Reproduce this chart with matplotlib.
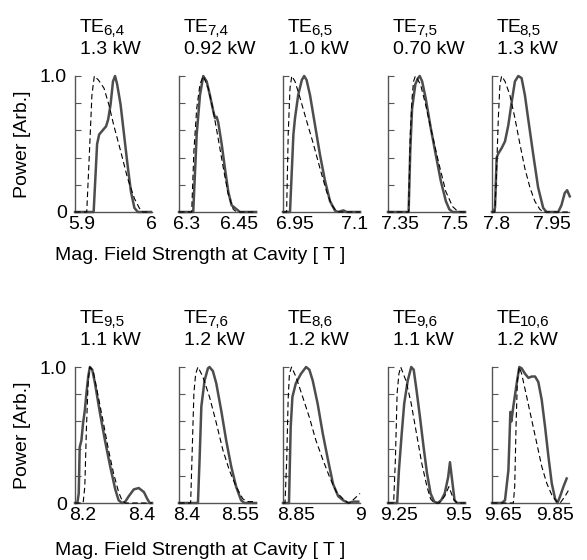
import matplotlib
matplotlib.use("Agg")
import matplotlib.pyplot as plt

# --------------------------
# Fonts
# --------------------------
plt.rcParams["font.family"] = ["Liberation Sans", "DejaVu Sans"]

# --------------------------
# Data (B field in T, normalised power)
# --------------------------
MODES = ["6,4", "7,4", "6,5", "7,5", "8,5", "9,5", "7,6", "8,6", "9,6", "10,6"]
POWERS = ["1.3 kW", "0.92 kW", "1.0 kW", "0.70 kW", "1.3 kW",
          "1.1 kW", "1.2 kW", "1.2 kW", "1.1 kW", "1.2 kW"]
TICKS = [(5.9, 6.0), (6.3, 6.45), (6.95, 7.1), (7.35, 7.5), (7.8, 7.95),
         (8.2, 8.4), (8.4, 8.55), (8.85, 9.0), (9.25, 9.5), (9.65, 9.85)]
TICK_LABELS = [("5.9", "6"), ("6.3", "6.45"), ("6.95", "7.1"), ("7.35", "7.5"), ("7.8", "7.95"),
               ("8.2", "8.4"), ("8.4", "8.55"), ("8.85", "9"), ("9.25", "9.5"), ("9.65", "9.85")]
XLIMS = [(5.890, 6.0015), (6.277, 6.499), (6.92, 7.1125), (7.317, 7.528), (7.789, 7.996),
         (8.174, 8.436), (8.378, 8.595), (8.82, 9.0), (9.206, 9.526), (9.608, 9.904)]

# measured (solid) and simulated (dashed)
te64_meas_b = [5.890, 5.917, 5.920, 5.922, 5.925, 5.930, 5.935, 5.938, 5.9415, 5.945, 5.948, 5.951,
               5.956, 5.961, 5.966, 5.971, 5.976, 5.981, 6.0]
te64_meas_p = [0, 0, 0.30, 0.50, 0.57, 0.60, 0.63, 0.68, 0.79, 0.96, 1.0, 0.94,
               0.79, 0.57, 0.35, 0.15, 0.03, 0, 0]
te64_calc_b = [5.890, 5.907, 5.911, 5.9145, 5.918, 5.924, 5.932, 5.939, 5.946, 5.956, 5.966,
               5.976, 5.983, 5.988, 6.0]
te64_calc_p = [0, 0, 0.45, 0.86, 1.0, 0.97, 0.91, 0.79, 0.64, 0.45, 0.25, 0.10, 0.03, 0, 0]

te74_meas_b = [6.277, 6.318, 6.328, 6.3375, 6.347, 6.3567, 6.366, 6.376, 6.381, 6.3855, 6.390,
               6.400, 6.4095, 6.419, 6.4287, 6.443, 6.4527, 6.499]
te74_meas_p = [0, 0, 0.57, 0.86, 1.0, 0.96, 0.86, 0.74, 0.69, 0.70, 0.66, 0.50, 0.32, 0.15,
               0.05, 0.02, 0, 0]
te74_calc_b = [6.277, 6.3135, 6.320, 6.328, 6.3375, 6.347, 6.3615, 6.376, 6.390, 6.405, 6.419,
               6.4335, 6.443, 6.499]
te74_calc_p = [0, 0, 0.45, 0.76, 0.94, 1.0, 0.91, 0.74, 0.54, 0.32, 0.13, 0.02, 0, 0]

te65_meas_b = [6.92, 6.9375, 6.946, 6.95, 6.958, 6.967, 6.973, 6.979, 6.9875, 7.0, 7.0125,
               7.025, 7.0375, 7.05, 7.058, 7.071, 7.079, 7.1125]
te65_meas_p = [0, 0, 0.57, 0.69, 0.86, 0.97, 1.0, 0.97, 0.86, 0.64, 0.42, 0.23, 0.08, 0.01,
               0, 0.012, 0, 0]
te65_calc_b = [6.92, 6.929, 6.933, 6.9375, 6.942, 6.95, 6.9625, 6.979, 6.996, 7.0125, 7.029,
               7.042, 7.054, 7.0625, 7.1125]
te65_calc_p = [0, 0, 0.57, 0.91, 1.0, 0.96, 0.84, 0.67, 0.50, 0.32, 0.15, 0.05, 0.005, 0, 0]

te75_meas_b = [7.317, 7.3735, 7.378, 7.383, 7.392, 7.3995, 7.404, 7.4106, 7.42, 7.434, 7.448,
               7.4616, 7.4755, 7.485, 7.494, 7.528]
te75_meas_p = [0, 0, 0.45, 0.76, 0.94, 0.985, 1.0, 0.96, 0.84, 0.62, 0.42, 0.23, 0.08, 0.02, 0, 0]
te75_calc_b = [7.317, 7.3735, 7.378, 7.383, 7.387, 7.392, 7.406, 7.42, 7.438, 7.457, 7.4755,
               7.494, 7.508, 7.517, 7.528]
te75_calc_p = [0, 0, 0.57, 0.84, 0.96, 1.0, 0.94, 0.79, 0.57, 0.35, 0.15, 0.04, 0.005, 0, 0]

te85_meas_b = [7.789, 7.7926, 7.797, 7.8015, 7.806, 7.815, 7.824, 7.833, 7.842, 7.8506, 7.8596,
               7.8685, 7.8774, 7.886, 7.900, 7.913, 7.9266, 7.9355, 7.967, 7.9757, 7.9846,
               7.991, 7.998]
te85_meas_p = [0, 0, 0.03, 0.40, 0.43, 0.47, 0.52, 0.64, 0.81, 0.96, 1.0, 0.985, 0.86, 0.69,
               0.42, 0.18, 0.03, 0, 0, 0.05, 0.14, 0.16, 0.115]
te85_calc_b = [7.789, 7.797, 7.8015, 7.806, 7.8104, 7.815, 7.824, 7.837, 7.8506, 7.864, 7.8774,
               7.891, 7.904, 7.9176, 7.9266, 7.996]
te85_calc_p = [0, 0, 0.32, 0.69, 0.94, 1.0, 0.96, 0.86, 0.69, 0.50, 0.32, 0.18, 0.08, 0.02, 0, 0]

te95_meas_b = [8.174, 8.182, 8.1867, 8.190, 8.1958, 8.2016, 8.2074, 8.213, 8.219, 8.2246, 8.2327,
               8.242, 8.259, 8.276, 8.2936, 8.311, 8.3224, 8.334, 8.345, 8.357, 8.374, 8.391,
               8.4086, 8.42, 8.428, 8.436]
te95_meas_p = [0, 0, 0.07, 0.41, 0.46, 0.59, 0.68, 0.81, 0.93, 1.0, 0.98, 0.88, 0.66, 0.46,
               0.27, 0.10, 0.02, 0, 0.01, 0.05, 0.10, 0.11, 0.08, 0.03, 0, 0]
te95_calc_b = [8.174, 8.2016, 8.2074, 8.213, 8.219, 8.2246, 8.236, 8.2534, 8.2706, 8.288, 8.305,
               8.3224, 8.334, 8.345, 8.436]
te95_calc_p = [0, 0, 0.12, 0.56, 0.90, 1.0, 0.97, 0.78, 0.59, 0.39, 0.22, 0.08, 0.02, 0, 0]

te76_meas_b = [8.378, 8.4314, 8.436, 8.441, 8.450, 8.4595, 8.464, 8.4735, 8.483, 8.497, 8.511,
               8.525, 8.539, 8.553, 8.5625, 8.595]
te76_meas_p = [0, 0, 0.32, 0.71, 0.90, 0.99, 1.0, 0.97, 0.88, 0.68, 0.46, 0.27, 0.12, 0.02, 0, 0]
te76_calc_b = [8.378, 8.4108, 8.4145, 8.420, 8.425, 8.4314, 8.445, 8.464, 8.483, 8.5016, 8.520,
               8.539, 8.558, 8.572, 8.5906]
te76_calc_p = [0, 0, 0.32, 0.81, 0.95, 1.0, 0.93, 0.78, 0.59, 0.39, 0.24, 0.12, 0.03, 0.01, 0.01]

te86_meas_b = [8.82, 8.834, 8.838, 8.842, 8.850, 8.862, 8.874, 8.8816, 8.8895, 8.901, 8.913,
               8.925, 8.937, 8.949, 8.9606, 8.9725, 8.984, 8.996]
te86_meas_p = [0, 0, 0.56, 0.78, 0.88, 0.95, 1.0, 0.98, 0.90, 0.73, 0.51, 0.32, 0.14, 0.05,
               0.02, 0, 0.01, 0.01]
te86_calc_b = [8.82, 8.8247, 8.8287, 8.832, 8.835, 8.840, 8.850, 8.866, 8.8816, 8.897, 8.913,
               8.929, 8.945, 8.9606, 8.9725, 8.976, 9.0]
te86_calc_p = [0, 0, 0.32, 0.76, 0.95, 1.0, 0.93, 0.78, 0.63, 0.46, 0.32, 0.19, 0.08, 0.03,
               0, 0, 0.07]

te96_meas_b = [9.206, 9.244, 9.2514, 9.263, 9.2733, 9.288, 9.3026, 9.3128, 9.3245, 9.339, 9.354,
               9.368, 9.383, 9.398, 9.412, 9.427, 9.4416, 9.456, 9.4635, 9.471, 9.4826, 9.493,
               9.526]
te96_meas_p = [0, 0, 0.24, 0.51, 0.73, 0.90, 1.0, 0.98, 0.83, 0.63, 0.41, 0.22, 0.07, 0.01, 0,
               0.02, 0.07, 0.19, 0.30, 0.19, 0.02, 0, 0]
te96_calc_b = [9.206, 9.2294, 9.2367, 9.244, 9.2514, 9.2587, 9.2806, 9.3026, 9.3245, 9.3465,
               9.368, 9.383, 9.398, 9.4196, 9.4416, 9.459, 9.478, 9.493, 9.526]
te96_calc_p = [0, 0, 0.32, 0.81, 0.95, 1.0, 0.90, 0.73, 0.51, 0.29, 0.12, 0.03, 0, 0, 0.05,
               0.12, 0.03, 0, 0]

te106_meas_b = [9.608, 9.6453, 9.658, 9.671, 9.6747, 9.6786, 9.6824, 9.690, 9.703, 9.713, 9.722,
                9.735, 9.748, 9.7607, 9.7736, 9.786, 9.799, 9.812, 9.825, 9.8377, 9.8506,
                9.8596, 9.87, 9.8826, 9.895]
te106_meas_p = [0, 0, 0.02, 0.24, 0.44, 0.67, 0.60, 0.71, 0.88, 1.0, 0.99, 0.95, 0.92, 0.93,
                0.93, 0.89, 0.76, 0.56, 0.34, 0.145, 0.03, 0, 0.05, 0.12, 0.18]
te106_calc_b = [9.608, 9.690, 9.6953, 9.7004, 9.7056, 9.713, 9.722, 9.7415, 9.7607, 9.78,
                9.799, 9.8185, 9.8377, 9.857, 9.87, 9.889, 9.904]
te106_calc_p = [0, 0, 0.12, 0.56, 0.90, 1.0, 0.95, 0.78, 0.61, 0.44, 0.27, 0.145, 0.06, 0.01,
                0, 0.05, 0.10]

MEAS = [(te64_meas_b, te64_meas_p), (te74_meas_b, te74_meas_p), (te65_meas_b, te65_meas_p),
        (te75_meas_b, te75_meas_p), (te85_meas_b, te85_meas_p), (te95_meas_b, te95_meas_p),
        (te76_meas_b, te76_meas_p), (te86_meas_b, te86_meas_p), (te96_meas_b, te96_meas_p),
        (te106_meas_b, te106_meas_p)]
CALC = [(te64_calc_b, te64_calc_p), (te74_calc_b, te74_calc_p), (te65_calc_b, te65_calc_p),
        (te75_calc_b, te75_calc_p), (te85_calc_b, te85_calc_p), (te95_calc_b, te95_calc_p),
        (te76_calc_b, te76_calc_p), (te86_calc_b, te86_calc_p), (te96_calc_b, te96_calc_p),
        (te106_calc_b, te106_calc_p)]

# --------------------------
# Layout (pixels)
# --------------------------
W, H = 587, 560
LEFTS = [75, 179, 283, 388, 492]
AX_W, AX_H = 77, 136
ROW_BOTTOMS = [212, 503]   # pixel row of the x axis, from top
GRAY = "#4d4d4d"
FS = 14


def make_panel(fig, i):
    row, col = divmod(i, 5)
    bottom = H - ROW_BOTTOMS[row]
    ax = fig.add_axes([LEFTS[col] / W, bottom / H, AX_W / W, AX_H / H])

    b, p = MEAS[i]
    ax.plot(b, p, color=GRAY, lw=1.8, clip_on=False, zorder=3)
    b, p = CALC[i]
    ax.plot(b, p, color="black", lw=0.8, ls=(0, (5, 3)), clip_on=False, zorder=4)

    ax.set_xlim(*XLIMS[i])
    ax.set_ylim(0, 1)
    for s in ("top", "right"):
        ax.spines[s].set_visible(False)
    for s in ("left", "bottom"):
        ax.spines[s].set_color("#555555")
        ax.spines[s].set_linewidth(1.0)

    ax.set_xticks(TICKS[i])
    ax.set_xticklabels(TICK_LABELS[i], fontsize=FS)
    ax.tick_params(axis="x", length=0, pad=3)
    ax.set_yticks([0, 0.2, 0.4, 0.6, 0.8, 1.0])
    if col == 0:
        ax.set_yticklabels(["0", "", "", "", "", "1.0"], fontsize=FS)
    else:
        ax.set_yticklabels([])
    ax.tick_params(axis="y", direction="in", length=4, width=0.8, color="#555555", pad=6)

    # mode + power title, left aligned above the panel; subscript as its own smaller text
    te = ax.annotate("TE", xy=(0, 1), xycoords="axes fraction",
                     xytext=(5, 44), textcoords="offset pixels", ha="left", va="baseline",
                     fontsize=FS)
    ax.annotate(MODES[i], xy=(1, 0), xycoords=te, xytext=(-2, 1),
                textcoords="offset pixels", ha="left", va="baseline", fontsize=11)
    ax.annotate(POWERS[i], xy=(0, 1), xycoords="axes fraction",
                xytext=(5, 22), textcoords="offset pixels", ha="left", va="baseline",
                fontsize=FS)
    return ax


fig = plt.figure(figsize=(W / 100, H / 100), dpi=100)
for i in range(10):
    make_panel(fig, i)

for row in range(2):
    yc = H - ROW_BOTTOMS[row] + AX_H / 2
    fig.text(23 / W, yc / H, "Power [Arb.]", rotation=90, ha="center", va="center", fontsize=FS)

fig.text(55 / W, (H - 260) / H, "Mag. Field Strength at Cavity [ T ]", ha="left",
         va="baseline", fontsize=FS)
fig.text(55 / W, (H - 555) / H, "Mag. Field Strength at Cavity [ T ]", ha="left",
         va="baseline", fontsize=FS)

fig.savefig("out.png", dpi=100)
